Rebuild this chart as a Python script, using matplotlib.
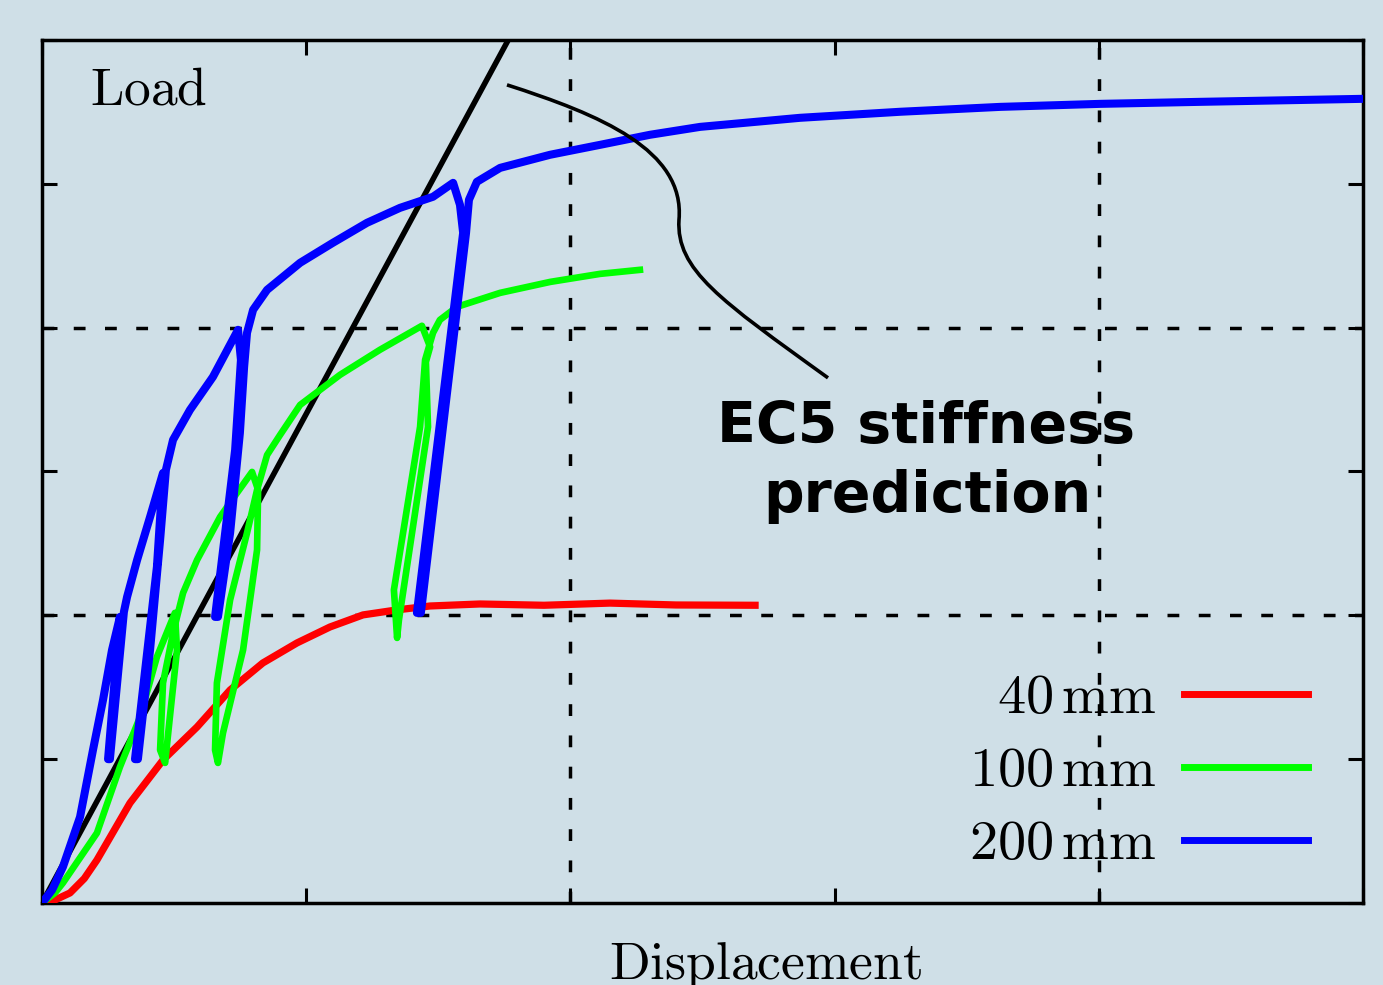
import numpy as np
import matplotlib
matplotlib.use("Agg")
import matplotlib.pyplot as plt
from matplotlib.path import Path
from matplotlib.patches import PathPatch

plt.rcParams['mathtext.fontset'] = 'cm'
plt.rcParams['lines.scale_dashes'] = False

BG = '#cfdfe7'

# --- data (axis units: 5 x 6 tick intervals) ---
# 40 mm specimen
red_x = [0, 0.049, 0.106, 0.160, 0.208, 0.333, 0.458, 0.587, 0.712, 0.836, 0.965,
         1.090, 1.215, 1.344, 1.469, 1.658, 1.90, 2.15, 2.40, 2.699]
red_y = [0, 0.021, 0.070, 0.170, 0.299, 0.695, 0.994, 1.224, 1.481, 1.669, 1.808,
         1.919, 2.003, 2.038, 2.065, 2.079, 2.070, 2.085, 2.072, 2.070]

# 100 mm specimen (with unload / reload loops)
green_x = [0, 0.049, 0.079, 0.208, 0.295, 0.371, 0.435, 0.503,
           0.511, 0.484, 0.466, 0.447, 0.458, 0.496,
           0.534, 0.587, 0.674, 0.738, 0.795,
           0.818, 0.814, 0.761, 0.685, 0.666, 0.655, 0.662, 0.712, 0.776, 0.814,
           0.852, 0.901, 0.977, 1.128, 1.279, 1.438,
           1.469, 1.453, 1.461, 1.351, 1.344, 1.332, 1.431, 1.450, 1.480,
           1.506, 1.571, 1.734, 1.923, 2.112, 2.263]
green_y = [0, 0.070, 0.139, 0.487, 0.946, 1.293, 1.711, 2.017,
           1.759, 1.293, 0.974, 1.064, 1.530, 1.878,
           2.156, 2.385, 2.684, 2.851, 2.997,
           2.872, 2.455, 1.759, 1.182, 0.974, 1.064, 1.530, 2.107, 2.573, 2.872,
           3.115, 3.254, 3.463, 3.672, 3.846, 4.013,
           3.866, 3.762, 3.310, 1.968, 1.843, 2.177, 3.310, 3.776, 3.964,
           4.054, 4.145, 4.242, 4.318, 4.374, 4.402]

# 200 mm specimen
blue_x = [0, 0.038, 0.079, 0.144, 0.193, 0.231, 0.265, 0.295,
          0.250, 0.257, 0.310,
          0.322, 0.360, 0.409, 0.458,
          0.435, 0.352, 0.363, 0.409, 0.447, 0.469,
          0.496, 0.560, 0.647, 0.742,
          0.753, 0.731, 0.655, 0.666, 0.712, 0.749, 0.765, 0.776,
          0.799, 0.852, 0.977, 1.101, 1.230, 1.355, 1.480, 1.556,
          1.582, 1.594, 1.419, 1.434, 1.605, 1.616, 1.646,
          1.734, 1.923, 2.112, 2.301, 2.491, 2.869, 3.248, 3.626, 4.005,
          4.383, 5.0]
blue_y = [0, 0.090, 0.250, 0.598, 1.064, 1.412, 1.759, 1.989,
          1.0, 1.0, 2.024,
          2.128, 2.385, 2.684, 2.990,
          2.337, 1.0, 1.0, 1.759, 2.524, 3.011,
          3.220, 3.428, 3.658, 3.985,
          3.776, 3.150, 1.989, 1.989, 2.573, 3.268, 3.727, 3.964,
          4.124, 4.263, 4.451, 4.590, 4.729, 4.833, 4.910, 5.007,
          4.854, 4.659, 2.017, 2.017, 4.659, 4.889, 5.014,
          5.111, 5.202, 5.271, 5.341, 5.396, 5.459, 5.501, 5.535, 5.556,
          5.570, 5.591]

# EC5 stiffness prediction (straight line)
ec5_x = [0, 2.0]
ec5_y = [0, 6.8]

# leader line for the annotation (cubic bezier control points)
leader_pts = [(1.760, 5.688), (2.112, 5.480), (2.434, 5.236), (2.411, 4.750),
              (2.400, 4.402), (2.566, 4.193), (2.975, 3.651)]

labels = [r'$40\,\mathrm{mm}$', r'$100\,\mathrm{mm}$', r'$200\,\mathrm{mm}$']

fig = plt.figure(figsize=(13.83, 9.85), dpi=100, facecolor=BG)
ax = fig.add_axes([0.03037, 0.08325, 0.95517, 0.87614], facecolor=BG)

ax.plot(ec5_x, ec5_y, color='black', lw=4.0, zorder=2)
l_red, = ax.plot(red_x, red_y, color='#ff0000', lw=5.2, zorder=3)
l_green, = ax.plot(green_x, green_y, color='#00ff00', lw=4.8, zorder=4)
l_blue, = ax.plot(blue_x, blue_y, color='#0000ff', lw=5.8, zorder=5)

# dashed grid at every other tick
for gx in [2, 4]:
    ax.axvline(gx, color='black', lw=2.5, dashes=(8.5, 14), zorder=1)
for gy in [2, 4]:
    ax.axhline(gy, color='black', lw=2.5, dashes=(8.5, 14), zorder=1)

codes = [Path.MOVETO] + [Path.CURVE4] * 6
leader = PathPatch(Path(leader_pts, codes), fill=False, color='black', lw=2.6, zorder=6)
ax.add_patch(leader)

ax.text(3.346, 3.199, 'EC5 stiffness', fontsize=41, fontweight='bold',
        ha='center', va='baseline', zorder=7)
ax.text(3.35, 2.719, 'prediction', fontsize=41, fontweight='bold',
        ha='center', va='baseline', zorder=7)

ax.text(0.182, 5.549, r'$\mathrm{Load}$', fontsize=38.5, ha='left', va='baseline')
ax.text(2.740, -0.529, r'$\mathrm{Displacement}$', fontsize=38.5, ha='center',
        va='baseline', clip_on=False)

ax.set_xlim(0, 5)
ax.set_ylim(0, 6)
ax.set_xticks(range(6))
ax.set_yticks(range(7))
ax.set_xticklabels([])
ax.set_yticklabels([])
ax.tick_params(direction='in', length=11, width=2.2, top=True, right=True)
for sp in ax.spines.values():
    sp.set_linewidth(2.5)

leg = ax.legend([l_red, l_green, l_blue], labels, loc='lower right',
                bbox_to_anchor=(0.982, 0.0), frameon=False, markerfirst=False,
                fontsize=40.5, handlelength=2.2, handletextpad=0.5,
                labelspacing=0.34, borderaxespad=0.16)
for ln in leg.get_lines():
    ln.set_linewidth(5.0)

fig.savefig('out.png', dpi=100, facecolor=BG)
